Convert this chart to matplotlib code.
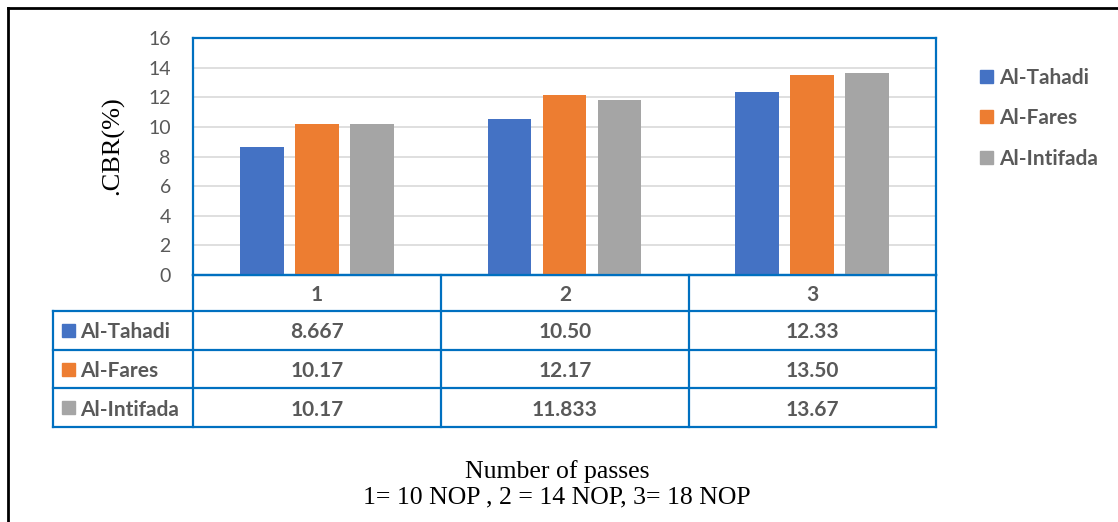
import matplotlib
matplotlib.use("Agg")
import matplotlib.pyplot as plt
from matplotlib.patches import Rectangle
from matplotlib.lines import Line2D

# ---- data ----
categories = ["1", "2", "3"]
series_names = ["Al-Tahadi", "Al-Fares", "Al-Intifada"]
value_labels = [
    ["8.667", "10.50", "12.33"],   # Al-Tahadi
    ["10.17", "12.17", "13.50"],   # Al-Fares
    ["10.17", "11.833", "13.67"],  # Al-Intifada
]
series_values = [[float(v) for v in row] for row in value_labels]
y_ticks = [0, 2, 4, 6, 8, 10, 12, 14, 16]

colors = ["#4472C4", "#ED7D31", "#A5A5A5"]
frame_blue = "#0070C0"
text_grey = "#595959"

W, H = 1118, 522
fig = plt.figure(figsize=(W / 100, H / 100), dpi=100)
fig.patch.set_facecolor("white")


def fx(x):
    return x / W


def fy(y):
    return 1 - y / H


# plot area in pixel geometry
L, R, T, B = 193, 936, 38, 275
ax = fig.add_axes([fx(L), fy(B), fx(R) - fx(L), fy(T) - fy(B)])
ax.set_xlim(-0.5, len(categories) - 0.5)
ax.set_ylim(0, 16)
ax.set_yticks(y_ticks)
ax.set_yticklabels([str(t) for t in y_ticks], fontsize=14, color=text_grey,
                   fontfamily="Lato")
ax.tick_params(axis="y", length=0, pad=16)
ax.set_xticks([])
ax.grid(axis="y", color="#D9D9D9", linewidth=1.2)
ax.set_axisbelow(True)
for s in ax.spines.values():
    s.set_color(frame_blue)
    s.set_linewidth(1.6)

offsets = [-0.222, 0.0, 0.222]
bar_w = 0.177
for i, (name, vals) in enumerate(zip(series_names, series_values)):
    xs = [c + offsets[i] for c in range(len(categories))]
    ax.bar(xs, vals, width=bar_w, color=colors[i], label=name, zorder=3)

# y-axis title
fig.text(fx(113), fy(146), ".CBR(%)", rotation=90, ha="center", va="center",
         fontsize=19, fontfamily="Liberation Serif", color="black")

# ---- data table below the plot ----
tl = 53
col_edges = [L, 441, 689, R]
row_edges = [B, 311, 350, 388, 427]


def hline(x0, x1, y):
    fig.add_artist(Line2D([fx(x0), fx(x1)], [fy(y), fy(y)], color=frame_blue,
                          linewidth=1.6))


def vline(x, y0, y1):
    fig.add_artist(Line2D([fx(x), fx(x)], [fy(y0), fy(y1)], color=frame_blue,
                          linewidth=1.6))


hline(L, R, row_edges[0])
for y in row_edges[1:]:
    hline(tl, R, y)
vline(tl, row_edges[1], row_edges[-1])
for x in col_edges:
    vline(x, row_edges[0], row_edges[-1])

tfont = dict(fontsize=15, fontweight="bold", color=text_grey, fontfamily="Lato")
for j, cat in enumerate(categories):
    cx = (col_edges[j] + col_edges[j + 1]) / 2
    cy = (row_edges[0] + row_edges[1]) / 2
    fig.text(fx(cx), fy(cy), cat, ha="center", va="center_baseline", **tfont)

for i, name in enumerate(series_names):
    cy = (row_edges[i + 1] + row_edges[i + 2]) / 2
    fig.add_artist(Rectangle((fx(62), fy(cy + 6.5)), fx(13), fy(0) - fy(13),
                             color=colors[i]))
    fig.text(fx(80), fy(cy), name, ha="left", va="center_baseline", **tfont)
    for j in range(len(categories)):
        cx = (col_edges[j] + col_edges[j + 1]) / 2
        fig.text(fx(cx), fy(cy), value_labels[i][j], ha="center",
                 va="center_baseline", **tfont)

# ---- legend on the right ----
legend_y = [76, 116, 157]
for i, name in enumerate(series_names):
    fig.add_artist(Rectangle((fx(980), fy(legend_y[i] + 6.5)), fx(13),
                             fy(0) - fy(13), color=colors[i]))
    fig.text(fx(999), fy(legend_y[i]), name, ha="left", va="center_baseline",
             **tfont)

# ---- x-axis caption ----
fig.text(fx(557), fy(478), "Number of passes", ha="center", va="baseline",
         fontsize=18.5, fontfamily="Liberation Serif", color="black")
fig.text(fx(557), fy(503), "1= 10 NOP , 2 = 14 NOP, 3= 18 NOP", ha="center",
         va="baseline", fontsize=18.5, fontfamily="Liberation Serif",
         color="black")

# outer frame (top and left edges)
fig.add_artist(Line2D([fx(8), fx(8)], [fy(8), 0], color="black", linewidth=2))
fig.add_artist(Line2D([fx(8), 1], [fy(8), fy(8)], color="black", linewidth=2))

fig.savefig("out.png", dpi=100)
